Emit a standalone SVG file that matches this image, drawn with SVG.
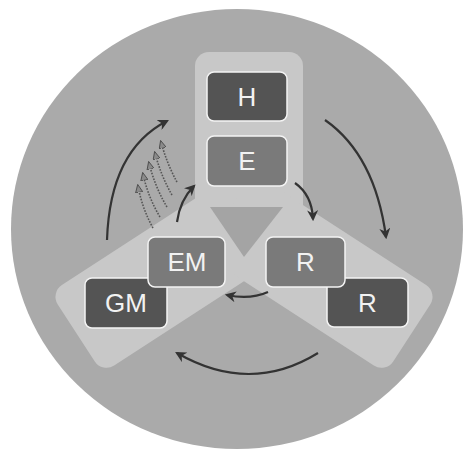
<svg xmlns="http://www.w3.org/2000/svg" width="469" height="450" viewBox="0 0 469 450">
<defs>
<style>
.arm{fill:#c8c8c8}
.box{stroke:#f4f4f4;stroke-width:1.5}
.dark{fill:#545454}
.mid{fill:#7a7a7a}
.lbl{font-family:"Liberation Sans",Arial,sans-serif;font-size:26px;fill:#f2f2f2;text-anchor:middle}
.arr{fill:none;stroke:#333;stroke-width:2.2;marker-end:url(#ah)}
.dot{fill:none;stroke:#555;stroke-width:1.6;stroke-dasharray:1.6 1.4;marker-end:url(#dh)}
</style>
<marker id="ah" viewBox="0 0 10 10" refX="8" refY="5" markerWidth="5" markerHeight="5" orient="auto" markerUnits="strokeWidth">
<path d="M0,0 L10,5 L0,10 L3,5 z" fill="#333"/>
</marker>
<marker id="dh" viewBox="0 0 10 10" refX="8" refY="5" markerWidth="5" markerHeight="5" orient="auto" markerUnits="strokeWidth">
<path d="M0,0.5 L10,5 L0,9.5 z" fill="#8a8a8a" stroke="#444" stroke-width="1"/>
</marker>
</defs>
<rect width="469" height="450" fill="#fff"/>
<ellipse cx="237" cy="229" rx="226" ry="220" fill="#aaaaaa"/>
<g id="arms">
<rect class="arm" x="195" y="52" width="108" height="215" rx="14"/>
<rect class="arm" x="-20" y="-48" width="220" height="96" rx="14" transform="translate(244,224) rotate(147)"/>
<rect class="arm" x="-20" y="-48" width="220" height="96" rx="14" transform="translate(244,224) rotate(33)"/>
<polygon points="210,207 283,207 244,257" fill="#a4a4a4"/>
</g>
<g id="connectors">
<path class="arr" d="M107,240 Q110,150 167,121"/>
<path class="arr" d="M325,120 Q375,155 386,237"/>
<path class="arr" d="M318,353 Q250,395 177,353"/>
<path class="arr" d="M295,183 Q312,195 313,219"/>
<path class="arr" d="M268,292 Q250,300 227,295"/>
<path class="arr" d="M177,222 Q180,200 194,186"/>
<path class="dot" d="M177,182 Q167,164 161,142"/>
<path class="dot" d="M172,195 Q161,176 155,153"/>
<path class="dot" d="M167,207 Q155,187 149,163"/>
<path class="dot" d="M160,217 Q148,197 143,174"/>
<path class="dot" d="M153,228 Q142,208 138,186"/>
</g>
<g id="node-H"><rect class="box dark" x="207" y="72" width="80" height="49" rx="7"/><text class="lbl" x="247" y="105.5">H</text></g>
<g id="node-E"><rect class="box mid" x="207" y="136" width="80" height="50" rx="7"/><text class="lbl" x="247" y="170">E</text></g>
<g id="node-GM"><rect class="box dark" x="85" y="278" width="82" height="50" rx="7"/><text class="lbl" x="126" y="312">GM</text></g>
<g id="node-EM"><rect class="box mid" x="148" y="237" width="77" height="50" rx="7"/><text class="lbl" x="187" y="271">EM</text></g>
<g id="node-R2"><rect class="box dark" x="327" y="278" width="81" height="49" rx="7"/><text class="lbl" x="367.5" y="311.5">R</text></g>
<g id="node-R1"><rect class="box mid" x="266" y="237" width="79" height="50" rx="7"/><text class="lbl" x="305.5" y="271">R</text></g>
</svg>
